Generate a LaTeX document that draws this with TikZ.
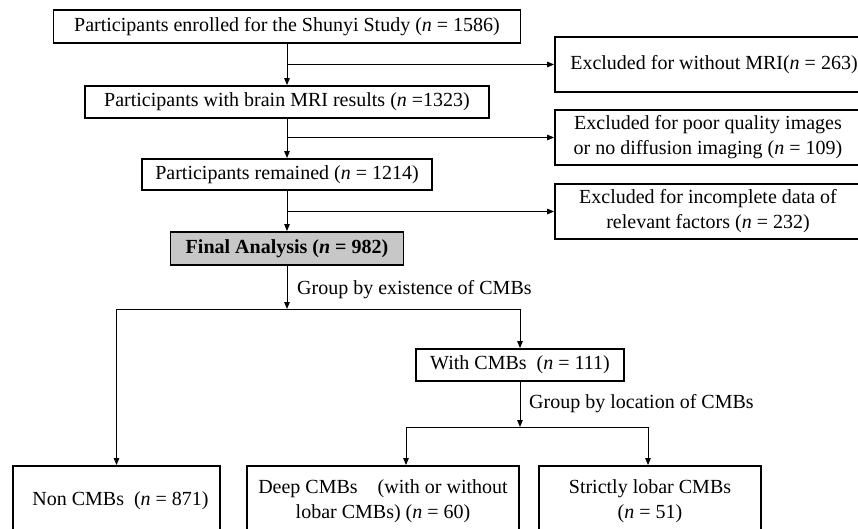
\documentclass[tikz,border=0pt]{standalone}
\usepackage{fontspec}
\setmainfont{Liberation Serif}
\usetikzlibrary{arrows.meta}
\begin{document}
\begin{tikzpicture}[x=1pt,y=-1pt,
  box/.style={draw,line width=1.8pt,inner sep=0pt,align=center,font=\fontsize{20}{25}\selectfont},
  conn/.style={line width=1pt},
  arr/.style={conn,-{Triangle[length=7pt,width=5.5pt]}},
  lbl/.style={inner sep=0pt,anchor=west,font=\fontsize{20}{25}\selectfont}]
\useasboundingbox (0,0) rectangle (858,529);
\clip (0,0) rectangle (858,529);
% main column
\node[box,minimum width=467pt,minimum height=33pt] (b1) at (287,26.5) {Participants enrolled for the Shunyi Study (\textit{n} = 1586)};
\node[box,minimum width=404pt,minimum height=32pt] (b2) at (287,102) {Participants with brain MRI results (\textit{n} =1323)};
\node[box,minimum width=290pt,minimum height=31pt] (b3) at (287,174.5) {Participants remained (\textit{n} = 1214)};
\node[box,fill=black!22,minimum width=233pt,minimum height=33pt] (b4) at (287,248.5) {\textbf{Final Analysis (\textit{n} = 982)}};
% exclusions
\node[box,minimum width=306pt,minimum height=55pt] (e1) at (708,64.5) {\hspace*{12pt}Excluded for without MRI(\textit{n} = 263)};
\node[box,minimum width=306pt,minimum height=55pt] (e2) at (708,137.5) {Excluded for poor quality images\\or no diffusion imaging (\textit{n} = 109)};
\node[box,minimum width=306pt,minimum height=55pt] (e3) at (708,211.5) {Excluded for incomplete data of\\relevant factors (\textit{n} = 232)};
% groups
\node[box,minimum width=208pt,minimum height=32pt] (w) at (520,365) {With CMBs~~(\textit{n} = 111)};
\node[box,minimum width=207pt,minimum height=70pt] (non) at (116.5,501) {\hspace*{8pt}Non CMBs~~(\textit{n} = 871)};
\node[box,minimum width=272pt,minimum height=70pt] (deep) at (383,501) {Deep CMBs\quad(with or without\\lobar CMBs) (\textit{n} = 60)};
\node[box,minimum width=222pt,minimum height=70pt] (str) at (650,501) {Strictly lobar CMBs\\(\textit{n} = 51)};
% connectors
\draw[arr] (b1.south) -- (b2.north);
\draw[arr] (b2.south) -- (b3.north);
\draw[arr] (b3.south) -- (b4.north);
\draw[arr] (b1.south |- e1.west) -- (e1.west);
\draw[arr] (b2.south |- e2.west) -- (e2.west);
\draw[arr] (b3.south |- e3.west) -- (e3.west);
\coordinate (s1) at (287,309);
\draw[arr] (b4.south) -- (s1);
\draw[conn] (non.north |- s1) -- (w.north |- s1);
\draw[arr] (non.north |- s1) -- (non.north);
\draw[arr] (w.north |- s1) -- (w.north);
\node[lbl] (g1) at (297,290) {Group by existence of CMBs};
\coordinate (s2) at (520,427);
\coordinate (d1) at (406,427);
\coordinate (d2) at (648,427);
\draw[arr] (w.south) -- (s2);
\draw[conn] (d1) -- (d2);
\draw[arr] (d1) -- (d1 |- deep.north);
\draw[arr] (d2) -- (d2 |- str.north);
\node[lbl] (g2) at (529,404) {Group by location of CMBs};
\end{tikzpicture}
\end{document}
